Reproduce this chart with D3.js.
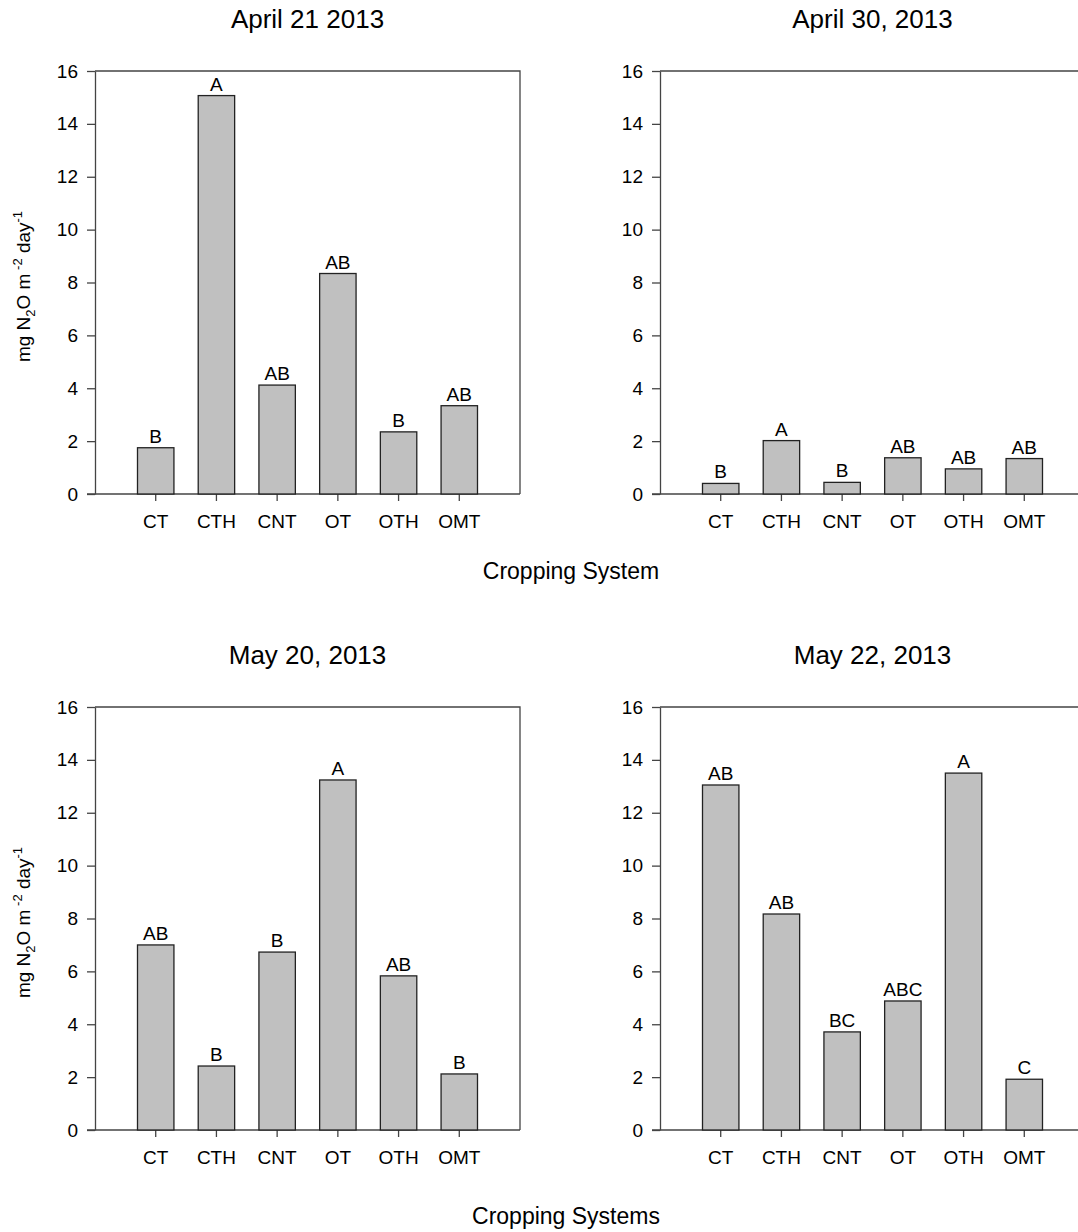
<html>
  <head>
    <title>N2O flux</title>
    <meta charset="utf-8" />
    <script src="https://cdnjs.cloudflare.com/ajax/libs/d3/7.6.1/d3.min.js"></script>
    <style>
      body { margin: 0; background: #fff; }
      text { font-family: "Liberation Sans", Arial, sans-serif; fill: #000; }
      .bar { fill: #c0c0c0; stroke: #222; stroke-width: 1.3; }
      .axis path, .axis line { stroke: #444; stroke-width: 1.3; }
      .axis text { font-size: 19px; }
    </style>
  </head>
  <body>
    <svg width="1078" height="1232"></svg>
  </body>

  <script>
    const systems = ["CT", "CTH", "CNT", "OT", "OTH", "OMT"];
    const yTicks = [0, 2, 4, 6, 8, 10, 12, 14, 16];

    const titles = ["April 21 2013", "April 30, 2013", "May 20, 2013", "May 22, 2013"];

    const apr21 = [1.75, 15.07, 4.12, 8.34, 2.35, 3.34];
    const apr30 = [0.4, 2.02, 0.44, 1.37, 0.95, 1.34];
    const may20 = [7.0, 2.42, 6.73, 13.24, 5.83, 2.12];
    const may22 = [13.05, 8.17, 3.71, 4.88, 13.5, 1.92];

    const apr21Letters = ["B", "A", "AB", "AB", "B", "AB"];
    const apr30Letters = ["B", "A", "B", "AB", "AB", "AB"];
    const may20Letters = ["AB", "B", "B", "A", "AB", "B"];
    const may22Letters = ["AB", "AB", "BC", "ABC", "A", "C"];

    const svg = d3.select("svg");

    const panelW = 425, panelH = 423;
    const panels = [
      { x: 95, y: 71, title: titles[0], vals: apr21, letters: apr21Letters, ylab: true },
      { x: 660, y: 71, title: titles[1], vals: apr30, letters: apr30Letters, ylab: false },
      { x: 95, y: 707, title: titles[2], vals: may20, letters: may20Letters, ylab: true },
      { x: 660, y: 707, title: titles[3], vals: may22, letters: may22Letters, ylab: false }
    ];

    const x = d3.scaleBand().domain(systems).range([0, panelW]).paddingInner(0.4).paddingOuter(0.7);
    const y = d3.scaleLinear().domain([0, 16]).range([panelH, 0]);

    panels.forEach((p) => {
      const g = svg.append("g").attr("transform", `translate(${p.x},${p.y})`);

      // frame (top + right)
      g.append("path")
        .attr("d", `M0,0H${panelW}V${panelH}`)
        .attr("fill", "none")
        .attr("stroke", "#444")
        .attr("stroke-width", 1.3);

      g.append("g")
        .attr("class", "axis")
        .call(d3.axisLeft(y).tickValues(yTicks).tickSize(8).tickPadding(9).tickSizeOuter(0))
        .call((a) => a.select(".domain").attr("stroke", "#222"));

      g.append("g")
        .attr("class", "axis")
        .attr("transform", `translate(0,${panelH})`)
        .call(d3.axisBottom(x).tickSize(7).tickPadding(14).tickSizeOuter(0))
        .call((a) => a.select(".domain").attr("d", `M-8,0H${panelW}`).attr("stroke", "#111"));

      g.selectAll(".bar")
        .data(p.vals)
        .enter()
        .append("rect")
        .attr("class", "bar")
        .attr("x", (d, i) => x(systems[i]))
        .attr("y", (d) => y(d))
        .attr("width", x.bandwidth())
        .attr("height", (d) => panelH - y(d));

      g.selectAll(".lab")
        .data(p.vals)
        .enter()
        .append("text")
        .attr("class", "lab")
        .attr("x", (d, i) => x(systems[i]) + x.bandwidth() / 2)
        .attr("y", (d) => y(d) - 5)
        .attr("text-anchor", "middle")
        .attr("font-size", 19)
        .text((d, i) => p.letters[i]);

      svg.append("text")
        .attr("x", p.x + panelW / 2)
        .attr("y", p.y - 43)
        .attr("text-anchor", "middle")
        .attr("font-size", 26)
        .text(p.title);

      if (p.ylab) {
        const t = svg.append("text")
          .attr("transform", `translate(30,${p.y + panelH / 2 + 4}) rotate(-90)`)
          .attr("text-anchor", "middle")
          .attr("font-size", 19);
        t.append("tspan").text("mg N");
        t.append("tspan").attr("font-size", 13).attr("dy", 5).text("2");
        t.append("tspan").attr("dy", -5).text("O m");
        t.append("tspan").attr("font-size", 13).attr("dy", -8).text(" -2");
        t.append("tspan").attr("dy", 8).text(" day");
        t.append("tspan").attr("font-size", 13).attr("dy", -8).text("-1");
      }
    });

    svg.append("text")
      .attr("x", 571)
      .attr("y", 579)
      .attr("text-anchor", "middle")
      .attr("font-size", 23)
      .text("Cropping System");

    svg.append("text")
      .attr("x", 566)
      .attr("y", 1224)
      .attr("text-anchor", "middle")
      .attr("font-size", 23)
      .text("Cropping Systems");
  </script>
</html>
